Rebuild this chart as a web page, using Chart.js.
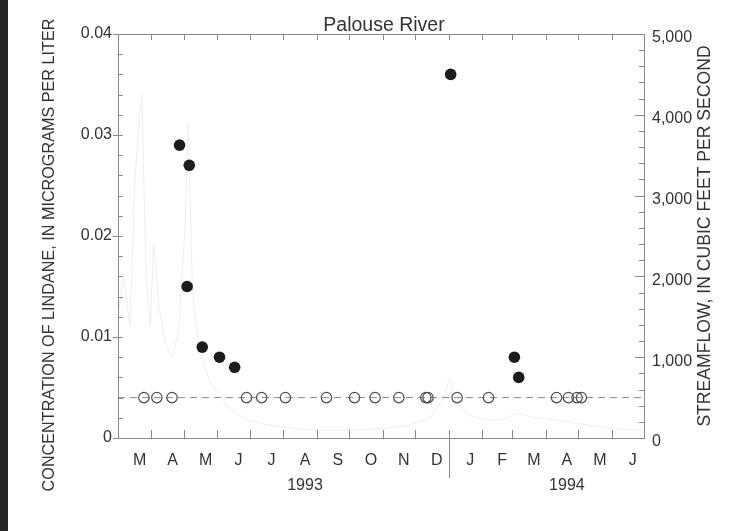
<!DOCTYPE html>
<html>
<head>
<meta charset="utf-8">
<title>Palouse River</title>
<script src="https://cdn.jsdelivr.net/npm/chart.js@4.4.1/dist/chart.umd.min.js"></script>
<style>
  body { margin: 0; background: #fff; }
  #wrap { position: relative; width: 739px; height: 531px; }
  #edge { position: absolute; left: 0; top: 0; width: 8px; height: 531px; background: #262626; }
</style>
</head>
<body>
<div id="wrap">
  <canvas id="myChart" width="739" height="531"></canvas>
  <div id="edge"></div>
</div>
<script>
// Lindane in the Palouse River, March 1993 - June 1994
const monthLabels = ['M','A','M','J','J','A','S','O','N','D','J','F','M','A','M','J'];
const yearLabels = {5: '1993', 13: '1994'};
const concTicks = [0, 0.01, 0.02, 0.03, 0.04];
const concTickLabels = ['0', '0.01', '0.02', '0.03', '0.04'];
const flowTicks = [0, 1000, 2000, 3000, 4000, 5000];
const flowTickLabels = ['0', '1,000', '2,000', '3,000', '4,000', '5,000'];

// detections (filled dots)
const detectDates = ['1993-04-27','1993-05-04','1993-05-06','1993-05-18','1993-06-03','1993-06-17','1994-01-03','1994-03-03','1994-03-07'];
const detectConc = [0.029, 0.015, 0.027, 0.009, 0.008, 0.007, 0.036, 0.008, 0.006];

// samples below the reporting limit (open circles)
const belowDates = ['1993-03-25','1993-04-06','1993-04-20','1993-06-28','1993-07-12','1993-08-03','1993-09-10','1993-10-06','1993-10-25','1993-11-16','1993-12-11','1993-12-13','1994-01-09','1994-02-07','1994-04-11','1994-04-22','1994-04-30','1994-05-04'];
const reportingLimit = 0.004;

// streamflow, cubic feet per second
const flowDates = ['1993-03-01','1993-03-06','1993-03-12','1993-03-17','1993-03-23','1993-03-27','1993-03-31','1993-04-03','1993-04-08','1993-04-14','1993-04-20','1993-04-26','1993-05-02','1993-05-05','1993-05-09','1993-05-15','1993-05-25','1993-06-10','1993-06-25','1993-07-10','1993-07-25','1993-08-15','1993-09-10','1993-10-10','1993-11-05','1993-11-25','1993-12-15','1993-12-28','1994-01-02','1994-01-08','1994-01-20','1994-02-05','1994-02-20','1994-03-05','1994-03-20','1994-04-10','1994-05-01','1994-05-20','1994-06-10','1994-06-30'];
const flowValues = [1500, 2000, 1400, 3300, 4270, 2000, 1400, 2400, 1600, 1150, 1000, 1300, 2600, 3900, 1800, 1100, 700, 400, 250, 180, 150, 110, 90, 100, 120, 160, 250, 500, 750, 450, 280, 220, 230, 300, 260, 220, 180, 140, 110, 90];

const leftTitle = 'CONCENTRATION OF LINDANE, IN MICROGRAMS PER LITER';
const rightTitle = 'STREAMFLOW, IN CUBIC FEET PER SECOND';

const start = Date.UTC(1993, 2, 1);
function dayOf(s) {
    const p = s.split('-');
    return (Date.UTC(+p[0], p[1] - 1, +p[2]) - start) / 86400000;
}

var monthStarts = [];
for (let i = 0; i <= 16; i++) {
    monthStarts.push((Date.UTC(1993, 2 + i, 1) - start) / 86400000);
}
var monthMids = [];
for (let i = 0; i < 16; i++) {
    monthMids.push((monthStarts[i] + monthStarts[i + 1]) / 2);
}

const font = '"Liberation Sans", Arial, Helvetica, sans-serif';
const textColor = '#333';
const axisColor = '#8a8a8a';

const frame = {
    id: 'frame',
    afterDraw(chart) {
        const ctx = chart.ctx;
        const a = chart.chartArea;
        const x = chart.scales.x, y = chart.scales.y, y2 = chart.scales.y2;
        ctx.save();
        ctx.strokeStyle = axisColor;
        ctx.lineWidth = 1;
        ctx.strokeRect(a.left + 0.5, a.top + 0.5, a.right - a.left, a.bottom - a.top);

        ctx.beginPath();
        monthStarts.forEach(d => {
            const px = Math.round(x.getPixelForValue(d)) + 0.5;
            ctx.moveTo(px, a.bottom); ctx.lineTo(px, a.bottom - 8);
            ctx.moveTo(px, a.top); ctx.lineTo(px, a.top + 6);
        });
        for (let v = 0; v <= 0.04001; v += 0.002) {
            const py = Math.round(y.getPixelForValue(v)) + 0.5;
            ctx.moveTo(a.left, py); ctx.lineTo(a.left + 5, py);
        }
        concTicks.forEach(v => {
            const py = Math.round(y.getPixelForValue(v)) + 0.5;
            ctx.moveTo(a.left - 5, py); ctx.lineTo(a.left, py);
        });
        for (let v = 0; v <= 5000; v += 200) {
            const py = Math.round(y2.getPixelForValue(v)) + 0.5;
            ctx.moveTo(a.right, py); ctx.lineTo(a.right - 5, py);
        }
        flowTicks.forEach(v => {
            const py = Math.round(y2.getPixelForValue(v)) + 0.5;
            ctx.moveTo(a.right, py); ctx.lineTo(a.right - 9, py);
        });
        // break between years
        const jan = Math.round(x.getPixelForValue(dayOf('1994-01-01'))) + 0.5;
        ctx.moveTo(jan, a.bottom); ctx.lineTo(jan, a.bottom + 40);
        ctx.stroke();

        ctx.fillStyle = textColor;
        ctx.textAlign = 'center';
        ctx.textBaseline = 'alphabetic';
        ctx.font = '19.5px ' + font;
        ctx.fillText('Palouse River', (a.left + a.right) / 2 + 3, 31);

        ctx.textBaseline = 'middle';
        ctx.font = '16.2px ' + font;
        ctx.save();
        ctx.translate(50, 255);
        ctx.rotate(-Math.PI / 2);
        ctx.fillText(leftTitle, 0, 0);
        ctx.restore();

        ctx.font = '17.6px ' + font;
        ctx.save();
        ctx.translate(705, (a.top + a.bottom) / 2);
        ctx.rotate(-Math.PI / 2);
        ctx.fillText(rightTitle, 0, 0);
        ctx.restore();
        ctx.restore();
    }
};

const ctx = document.getElementById('myChart');

new Chart(ctx, {
    type: 'scatter',
    data: {
        datasets: [{
            label: 'Detected',
            data: detectDates.map((d, i) => ({x: dayOf(d), y: detectConc[i]})),
            pointRadius: 5.8,
            backgroundColor: '#1c1c1c',
            borderColor: '#1c1c1c',
            borderWidth: 0,
            order: 1
        }, {
            label: 'Below reporting limit',
            data: belowDates.map(d => ({x: dayOf(d), y: reportingLimit})),
            pointRadius: 5.2,
            backgroundColor: 'rgba(0,0,0,0)',
            borderColor: '#4d4d4d',
            borderWidth: 1.2,
            order: 1
        }, {
            label: 'Reporting limit',
            type: 'line',
            data: [{x: monthStarts[0], y: reportingLimit}, {x: monthStarts[16], y: reportingLimit}],
            borderColor: '#8c8c8c',
            borderWidth: 1,
            borderDash: [7, 5],
            pointRadius: 0,
            order: 2
        }, {
            label: 'Streamflow',
            type: 'line',
            yAxisID: 'y2',
            data: flowDates.map((d, i) => ({x: dayOf(d), y: flowValues[i]})),
            borderColor: '#eeeeee',
            borderWidth: 1,
            pointRadius: 0,
            order: 3
        }]
    },
    options: {
        responsive: false,
        animation: false,
        layout: { padding: { top: 34, bottom: 33, left: 0, right: 0 } },
        plugins: {
            legend: { display: false },
            tooltip: { enabled: false },
            title: { display: false }
        },
        scales: {
            x: {
                type: 'linear',
                position: 'bottom',
                min: monthStarts[0],
                max: monthStarts[16],
                grid: { display: false, drawTicks: false },
                border: { display: false },
                afterBuildTicks: s => { s.ticks = monthMids.map(v => ({value: v})); },
                afterFit: s => { s.height = 60; },
                ticks: {
                    padding: 10,
                    labelOffset: 5,
                    maxRotation: 0,
                    autoSkip: false,
                    color: textColor,
                    font: { family: font, size: 16, lineHeight: '25px' },
                    callback: (v, i) => yearLabels[i] ? [monthLabels[i], yearLabels[i]] : monthLabels[i]
                }
            },
            y: {
                position: 'left',
                min: 0,
                max: 0.04,
                grid: { display: false, drawTicks: false },
                border: { display: false },
                afterBuildTicks: s => { s.ticks = concTicks.map(v => ({value: v})); },
                afterFit: s => { s.width = 118; },
                ticks: {
                    padding: 6,
                    color: textColor,
                    font: { family: font, size: 16 },
                    callback: (v, i) => concTickLabels[i]
                }
            },
            y2: {
                position: 'right',
                min: 0,
                max: 5000,
                grid: { display: false, drawTicks: false },
                border: { display: false },
                afterBuildTicks: s => { s.ticks = flowTicks.map(v => ({value: v})); },
                afterFit: s => { s.width = 95; },
                ticks: {
                    padding: 8,
                    labelOffset: 4,
                    color: textColor,
                    font: { family: font, size: 16 },
                    callback: (v, i) => flowTickLabels[i]
                }
            }
        }
    },
    plugins: [frame]
});
</script>
</body>
</html>
